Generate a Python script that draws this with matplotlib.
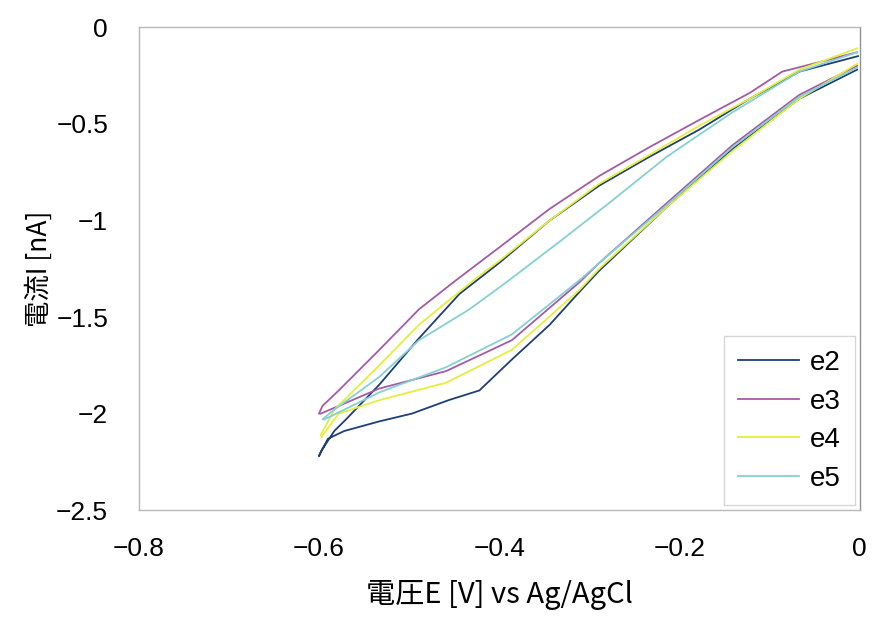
import matplotlib
matplotlib.use("Agg")
import matplotlib.pyplot as plt
from matplotlib.ticker import FuncFormatter

plt.rcParams['font.family'] = ['Liberation Sans', 'Noto Sans CJK JP', 'DejaVu Sans']

# cyclic voltammograms, values (E in V, I in nA)
# each loop: upper branch from E=0 down to -0.6, then lower branch back to 0
e2_E = [-0.002, -0.067, -0.122, -0.178, -0.233, -0.289, -0.344, -0.400, -0.444,
        -0.489, -0.533, -0.570, -0.583, -0.597, -0.600,
        -0.598, -0.590, -0.572, -0.533, -0.497, -0.456, -0.422, -0.386, -0.344,
        -0.311, -0.289, -0.214, -0.141, -0.067, -0.003]
e2_I = [-0.15, -0.23, -0.37, -0.53, -0.67, -0.82, -1.00, -1.22, -1.38,
        -1.61, -1.85, -2.03, -2.09, -2.19, -2.22,
        -2.20, -2.13, -2.09, -2.04, -2.00, -1.93, -1.88, -1.72, -1.54,
        -1.37, -1.26, -0.93, -0.63, -0.37, -0.22]

e3_E = [-0.003, -0.044, -0.086, -0.122, -0.178, -0.233, -0.289, -0.344, -0.400,
        -0.448, -0.489, -0.533, -0.578, -0.596, -0.600,
        -0.598, -0.533, -0.459, -0.386, -0.311, -0.289, -0.214, -0.141, -0.067, -0.003]
e3_I = [-0.13, -0.18, -0.23, -0.34, -0.48, -0.62, -0.77, -0.94, -1.14,
        -1.31, -1.46, -1.67, -1.88, -1.96, -2.00,
        -2.00, -1.87, -1.78, -1.62, -1.32, -1.22, -0.91, -0.61, -0.35, -0.20]

e4_E = [-0.003, -0.067, -0.122, -0.178, -0.233, -0.289, -0.344, -0.400, -0.426,
        -0.489, -0.533, -0.583, -0.598,
        -0.597, -0.578, -0.533, -0.459, -0.386, -0.311, -0.289, -0.214, -0.141,
        -0.067, -0.003]
e4_I = [-0.11, -0.22, -0.37, -0.51, -0.66, -0.81, -1.00, -1.21, -1.30,
        -1.54, -1.75, -1.98, -2.11,
        -2.12, -2.00, -1.93, -1.84, -1.67, -1.36, -1.25, -0.93, -0.64,
        -0.37, -0.19]

e5_E = [-0.003, -0.067, -0.141, -0.214, -0.278, -0.333, -0.392, -0.433, -0.489,
        -0.533, -0.586, -0.596,
        -0.594, -0.533, -0.459, -0.386, -0.311, -0.289, -0.214, -0.141, -0.067, -0.003]
e5_I = [-0.13, -0.23, -0.44, -0.67, -0.91, -1.11, -1.32, -1.46, -1.62,
        -1.81, -1.99, -2.03,
        -2.03, -1.89, -1.76, -1.59, -1.31, -1.22, -0.92, -0.62, -0.36, -0.21]

series = [("e2", e2_E, e2_I, "#1f3d78"),
          ("e3", e3_E, e3_I, "#a45aa8"),
          ("e4", e4_E, e4_I, "#e4ee3c"),
          ("e5", e5_E, e5_I, "#84d0d2")]

fig = plt.figure(figsize=(8.72, 6.17), dpi=100)
ax = fig.add_axes([0.159, 0.173, 0.827, 0.783])

for name, E, I, c in series:
    ax.plot(E, I, color=c, lw=1.3, label=name)

ax.set_xlim(-0.8, 0)
ax.set_ylim(-2.5, 0)
ax.set_xticks([-0.8, -0.6, -0.4, -0.2, 0])
ax.set_yticks([0, -0.5, -1, -1.5, -2, -2.5])
fmt = FuncFormatter(lambda v, p: ("%g" % v).replace("-", "\u2212"))
ax.xaxis.set_major_formatter(fmt)
ax.yaxis.set_major_formatter(fmt)
ax.tick_params(axis="both", length=0, labelsize=19)
ax.tick_params(axis="y", pad=22)
ax.tick_params(axis="x", pad=19)

for s in ax.spines.values():
    s.set_color("#b8b8b8")
    s.set_linewidth(1.0)
ax.spines["right"].set_color("#909090")

ax.set_xlabel("電圧E [V] vs Ag/AgCl", fontsize=21,
              family=["Noto Sans CJK JP", "DejaVu Sans"], labelpad=14)
ax.set_ylabel("電流I [nA]", fontsize=19,
              family=["Noto Sans CJK JP", "DejaVu Sans"], labelpad=2)

leg = ax.legend(loc="lower right", fontsize=20, handlelength=2.2,
                frameon=True, fancybox=False, borderpad=0.5,
                labelspacing=0.45, handletextpad=0.4, borderaxespad=0,
                bbox_to_anchor=(0.993, 0.01))
leg.get_frame().set_edgecolor("#cccccc")
leg.get_frame().set_linewidth(1.0)

fig.savefig("out.png", dpi=100)
